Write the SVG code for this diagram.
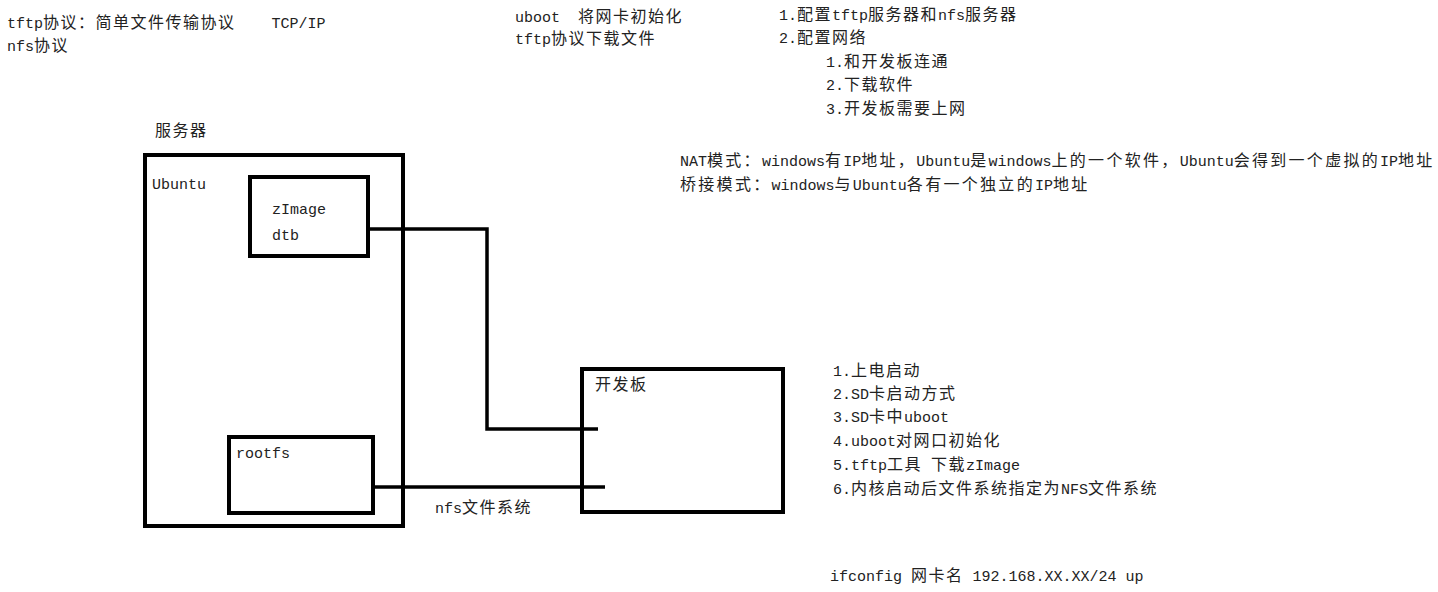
<svg xmlns="http://www.w3.org/2000/svg" width="1438" height="592" viewBox="0 0 1438 592">
<style>
text { font-family: "Liberation Mono", "Noto Sans CJK SC", monospace; font-size: 15px; fill: #222; }
.c { font-family: "Noto Sans CJK SC", sans-serif; font-size: 16px; letter-spacing: 1.5px; }
.wide .c { letter-spacing: 2.3px; }
.box { fill: none; stroke: #000; stroke-width: 4; }
.wire { fill: none; stroke: #000; stroke-width: 3.5; }
</style>
<rect width="1438" height="592" fill="#fff"/>

<g id="notes-top-left">
<text x="7" y="28" xml:space="preserve">tftp<tspan class="c">协议：简单文件传输协议</tspan>    TCP/IP</text>
<text x="7" y="51">nfs<tspan class="c">协议</tspan></text>
</g>

<g id="notes-uboot">
<text x="515" y="22" xml:space="preserve">uboot  <tspan class="c">将网卡初始化</tspan></text>
<text x="515" y="44">tftp<tspan class="c">协议下载文件</tspan></text>
</g>

<g id="notes-config">
<text x="779" y="20">1.<tspan class="c">配置</tspan>tftp<tspan class="c">服务器和</tspan>nfs<tspan class="c">服务器</tspan></text>
<text x="779" y="43">2.<tspan class="c">配置网络</tspan></text>
<text x="826" y="67">1.<tspan class="c">和开发板连通</tspan></text>
<text x="826" y="90">2.<tspan class="c">下载软件</tspan></text>
<text x="826" y="114">3.<tspan class="c">开发板需要上网</tspan></text>
</g>

<g id="notes-network" class="wide">
<text x="680" y="166">NAT<tspan class="c">模式：</tspan>windows<tspan class="c">有</tspan>IP<tspan class="c">地址，</tspan>Ubuntu<tspan class="c">是</tspan>windows<tspan class="c">上的一个软件，</tspan>Ubuntu<tspan class="c">会得到一个虚拟的</tspan>IP<tspan class="c">地址</tspan></text>
<text x="680" y="190"><tspan class="c">桥接模式：</tspan>windows<tspan class="c">与</tspan>Ubuntu<tspan class="c">各有一个独立的</tspan>IP<tspan class="c">地址</tspan></text>
</g>

<g id="server">
<text x="155" y="136" class="c">服务器</text>
<rect class="box" x="145" y="155" width="258" height="371"/>
<text x="152" y="189">Ubuntu</text>
</g>

<g id="zimage">
<rect class="box" x="250" y="177" width="118" height="79"/>
<text x="272" y="214">zImage</text>
<text x="272" y="240">dtb</text>
</g>

<g id="rootfs">
<rect class="box" x="229" y="437" width="144" height="76"/>
<text x="236" y="458">rootfs</text>
</g>

<g id="board">
<rect class="box" x="582" y="369" width="201" height="143"/>
<text x="595" y="390" class="c">开发板</text>
</g>

<g id="connectors">
<polyline class="wire" points="368,229 487,229 487,429 598,429"/>
<line class="wire" x1="372" y1="487" x2="605" y2="487"/>
<text x="435" y="513">nfs<tspan class="c">文件系统</tspan></text>
</g>

<g id="notes-boot">
<text x="833" y="376">1.<tspan class="c">上电启动</tspan></text>
<text x="833" y="399">2.SD<tspan class="c">卡启动方式</tspan></text>
<text x="833" y="422">3.SD<tspan class="c">卡中</tspan>uboot</text>
<text x="833" y="446">4.uboot<tspan class="c">对网口初始化</tspan></text>
<text x="833" y="470" xml:space="preserve">5.tftp<tspan class="c">工具</tspan> <tspan class="c">下载</tspan>zImage</text>
<text x="833" y="494">6.<tspan class="c">内核启动后文件系统指定为</tspan>NFS<tspan class="c">文件系统</tspan></text>
</g>

<g id="notes-ifconfig">
<text x="830" y="581" xml:space="preserve">ifconfig <tspan class="c">网卡名</tspan> 192.168.XX.XX/24 up</text>
</g>
</svg>
